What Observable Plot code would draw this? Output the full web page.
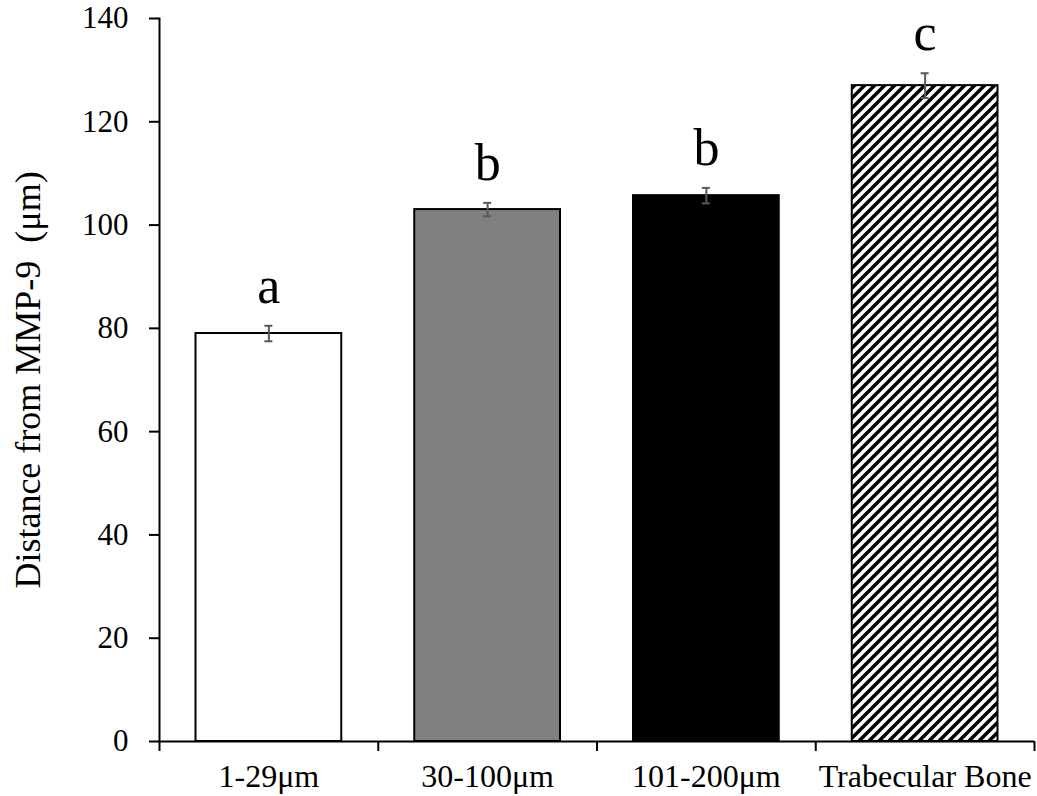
<!DOCTYPE html>
<html><head><meta charset="utf-8">
<script src="https://cdn.jsdelivr.net/npm/d3@7"></script>
<script src="https://cdn.jsdelivr.net/npm/@observablehq/plot@0.6"></script>
<style>body{margin:0;background:#fff}</style>
</head><body><div id="chart"></div>
<script>
const categories = ["1-29μm", "30-100μm", "101-200μm", "Trabecular Bone"];
const means = [79.0, 103.0, 105.7, 127.0];
const errors = [1.5, 1.3, 1.5, 2.4];
const letters = ["a", "b", "b", "c"];
const fills = ["white", "#808080", "black", "url(#hatch)"];
const yTicks = [0, 20, 40, 60, 80, 100, 120, 140];
const yLabel = "Distance from MMP-9\u00a0 (μm)";

const data = categories.map((c, i) => ({i, c, mean: means[i], err: errors[i], letter: letters[i], fill: fills[i]}));
const boundaries = d3.range(categories.length + 1);
const centers = categories.map((c, i) => i + 0.5);

const defs = () => {
  const g = d3.create("svg:defs");
  const p = g.append("pattern").attr("id", "hatch").attr("patternUnits", "userSpaceOnUse")
    .attr("width", 10).attr("height", 10);
  p.append("rect").attr("width", 10).attr("height", 10).attr("fill", "white");
  p.append("path").attr("d", "M-2.5,2.5 l5,-5 M0,10 l10,-10 M7.5,12.5 l5,-5")
    .attr("stroke", "black").attr("stroke-width", 3.5);
  return g.node();
};

const errColor = "#595959";

const chart = Plot.plot({
  width: 1037,
  height: 796,
  marginLeft: 159,
  marginRight: 3,
  marginTop: 18,
  marginBottom: 55,
  style: {fontFamily: "Liberation Serif", background: "white", color: "black"},
  x: {type: "linear", domain: [0, categories.length]},
  y: {domain: [0, 140]},
  color: {type: "identity"},
  marks: [
    defs,
    Plot.rectY(data, {x1: "i", x2: d => d.i + 1, y: "mean", fill: d => d.fill, stroke: "black", strokeWidth: 2, insetLeft: 36.5, insetRight: 36.5}),
    Plot.ruleX(data, {x: d => d.i + 0.5, y1: d => d.mean - d.err, y2: d => d.mean + d.err, stroke: errColor, strokeWidth: 2}),
    Plot.ruleY(data, {x1: d => d.i + 0.5, x2: d => d.i + 0.5, y: d => d.mean + d.err, insetLeft: -4, insetRight: -4, stroke: errColor, strokeWidth: 2}),
    Plot.ruleY(data, {x1: d => d.i + 0.5, x2: d => d.i + 0.5, y: d => d.mean - d.err, insetLeft: -4, insetRight: -4, stroke: errColor, strokeWidth: 2}),
    Plot.text(data, {x: d => d.i + 0.5, y: d => d.mean + d.err, text: "letter", dy: -23, lineAnchor: "bottom", fontSize: 52, fill: "black"}),
    Plot.frame({anchor: "left", stroke: "black", strokeWidth: 2}),
    Plot.ruleY([0], {stroke: "black", strokeWidth: 2}),
    Plot.axisY({ticks: yTicks, tickSize: 10, tickPadding: 21, fontSize: 31, strokeWidth: 2, label: null}),
    Plot.axisY({ticks: [], fontSize: 36, label: yLabel, labelAnchor: "center", labelOffset: 145, labelArrow: "none"}),
    Plot.axisX({ticks: boundaries, tickSize: 10, tickFormat: () => "", strokeWidth: 2, label: null}),
    Plot.axisX({ticks: centers, tickSize: 0, tickPadding: 23, fontSize: 32, tickFormat: d => categories[Math.floor(d)], label: null})
  ]
});
document.getElementById("chart").append(chart);
</script>
</body></html>
